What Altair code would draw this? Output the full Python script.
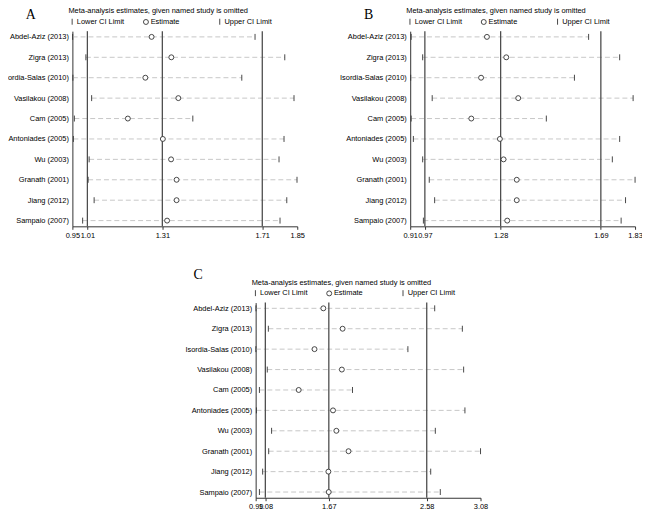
import altair as alt
import pandas as pd

studies = ["Abdel-Aziz (2013)", "Zigra (2013)", "Isordia-Salas (2010)", "Vasilakou (2008)",
           "Cam (2005)", "Antoniades (2005)", "Wu (2003)", "Granath (2001)", "Jiang (2012)",
           "Sampaio (2007)"]

# Panel A
a_lower = [0.951, 1.004, 0.952, 1.027, 0.958, 0.954, 1.017, 1.013, 1.037, 0.991]
a_est = [1.267, 1.346, 1.242, 1.374, 1.172, 1.312, 1.345, 1.367, 1.367, 1.329]
a_upper = [1.681, 1.800, 1.628, 1.837, 1.432, 1.797, 1.777, 1.849, 1.808, 1.781]
a_pooled = [1.01, 1.31, 1.71]
a_range = [0.95, 1.85]

# Panel B
b_lower = [0.914, 0.961, 0.912, 1.000, 0.914, 0.923, 0.961, 0.988, 1.010, 0.964]
b_est = [1.224, 1.303, 1.200, 1.352, 1.160, 1.277, 1.292, 1.346, 1.346, 1.307]
b_upper = [1.640, 1.767, 1.582, 1.822, 1.467, 1.767, 1.737, 1.830, 1.791, 1.773]
b_pooled = [0.97, 1.28, 1.69]
b_range = [0.91, 1.83]

# Panel C
c_lower = [0.993, 1.108, 0.992, 1.098, 1.025, 0.997, 1.138, 1.111, 1.055, 1.025]
c_est = [1.619, 1.798, 1.537, 1.791, 1.390, 1.709, 1.740, 1.853, 1.666, 1.669]
c_upper = [2.654, 2.911, 2.405, 2.923, 1.890, 2.935, 2.660, 3.080, 2.617, 2.706]
c_pooled = [1.08, 1.67, 2.58]
c_range = [0.99, 3.08]

FONT = "Liberation Sans"
SERIF = "Liberation Serif"
FS = 7.5
LEGEND_TITLE = "Meta-analysis estimates, given named study is omitted"
KINDS = ["Lower CI Limit", "Estimate", "Upper CI Limit"]
BAR = "M0,-1.2V1.2"
W, H = 227, 197


def panel(label, lower, est, upper, pooled, rng, ldx, ldy):
    df = pd.DataFrame({"study": studies, "lower": lower, "est": est, "upper": upper})
    long = pd.concat([
        pd.DataFrame({"study": studies, "value": lower, "kind": KINDS[0]}),
        pd.DataFrame({"study": studies, "value": est, "kind": KINDS[1]}),
        pd.DataFrame({"study": studies, "value": upper, "kind": KINDS[2]}),
    ], ignore_index=True)
    ticks = [rng[0]] + pooled + [rng[1]]
    xscale = alt.Scale(domain=rng, nice=False, zero=False)
    xaxis = alt.Axis(values=ticks, format=".2f", title=None, grid=False, labelOverlap=False,
                     labelFlush=False, tickSize=3, tickColor="#333", domainColor="#333",
                     labelFont=FONT, labelFontSize=FS, labelColor="#000", labelPadding=2)
    yaxis = alt.Axis(title=None, ticks=False, labelPadding=4, labelFont=FONT, labelFontSize=FS,
                     labelColor="#000", domainColor="#333", grid=False, labelLimit=200)
    yscale = alt.Scale(type="point", padding=0.28)
    dash = alt.Chart(df).mark_rule(color="#b8b8b8", strokeDash=[5, 3], strokeWidth=0.8).encode(
        x=alt.X("lower:Q", scale=xscale, axis=xaxis),
        x2="upper:Q",
        y=alt.Y("study:N", sort=studies, scale=yscale, axis=yaxis),
    )
    refs = alt.Chart(pd.DataFrame({"v": pooled})).mark_rule(color="#4d4d4d", strokeWidth=1.3).encode(
        x="v:Q"
    )
    pts = alt.Chart(long).mark_point(size=25, strokeWidth=0.9, opacity=1).encode(
        x="value:Q",
        y=alt.Y("study:N", sort=studies),
        stroke=alt.value("#333"),
        fill=alt.value("white"),
        shape=alt.Shape("kind:N", scale=alt.Scale(domain=KINDS, range=[BAR, "circle", BAR]),
                        legend=alt.Legend(title=LEGEND_TITLE, orient="none", legendX=-4, legendY=-24,
                                          direction="horizontal",
                                          titleFont=FONT, titleFontSize=FS, titleFontWeight="normal",
                                          titleColor="#000", titleLimit=400, labelFont=FONT,
                                          labelFontSize=FS, labelColor="#000", symbolSize=25,
                                          symbolStrokeWidth=0.9, symbolOpacity=1,
                                          gridAlign="all", columnPadding=16.5, labelOffset=1,
                                          titlePadding=3, padding=0)),
    )
    lab = alt.Chart(pd.DataFrame({"t": [label]})).mark_text(
        font=SERIF, fontSize=14, baseline="middle", align="center", color="#000"
    ).encode(text="t:N", x=alt.value(ldx), y=alt.value(ldy))
    return alt.layer(dash, refs, pts, lab).properties(width=W, height=H)


pa = panel("A", a_lower, a_est, a_upper, a_pooled, a_range, -42, -16)
pb = panel("B", b_lower, b_est, b_upper, b_pooled, b_range, -42, -16)
pc = panel("C", c_lower, c_est, c_upper, c_pooled, c_range, -58, -27.5)

spacer = alt.Chart(pd.DataFrame({"s": [0]})).mark_point(opacity=0).encode(
    x=alt.X("s:Q", axis=None), y=alt.Y("s:Q", axis=None)
).properties(width=100, height=20)

top = alt.hconcat(pa, pb, spacing=114, bounds="flush").resolve_scale(
    x="independent", y="independent", shape="independent").resolve_legend(shape="independent")
bottom = alt.hconcat(spacer, pc, spacing=85, bounds="flush").resolve_scale(
    x="independent", y="independent", shape="independent").resolve_legend(shape="independent")

chart = alt.vconcat(top, bottom, spacing=29).resolve_scale(
    x="independent", y="independent", shape="independent").resolve_legend(
    shape="independent").properties(
    padding={"left": -8, "top": -4, "right": -1, "bottom": 0}
).configure(font=FONT, view=alt.ViewConfig(stroke="transparent"))

chart.save("out.html", embed_options={"renderer": "svg", "actions": False})
